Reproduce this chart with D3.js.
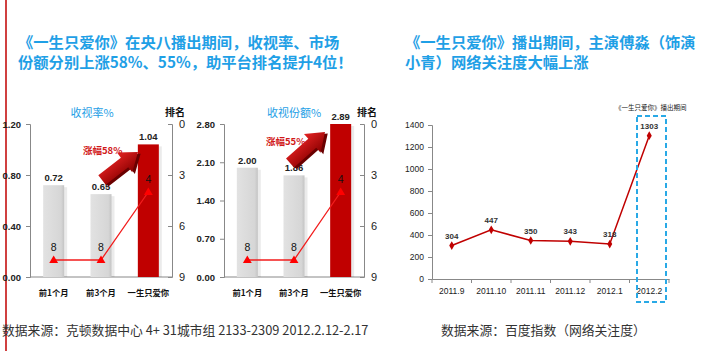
<!DOCTYPE html>
<html>
<head>
<meta charset="utf-8">
<script src="https://cdn.jsdelivr.net/npm/d3@7"></script>
<style>
  body { margin: 0; background: #fff; }
  svg { display: block; }
  .cjk { font-family: "Noto Sans CJK SC", sans-serif; }
  .num { font-family: "Liberation Sans", Arial, sans-serif; }
</style>
</head>
<body>
<svg id="chart" width="702" height="351"></svg>
<script>
// ---- data ----
var categories = ["前1个月", "前3个月", "一生只爱你"]
var ratingValues = [0.72, 0.65, 1.04]
var shareValues = [2.00, 1.86, 2.89]
var ratingRanks = [8, 8, 4]
var shareRanks = [8, 8, 4]
var ratingTicks = [0, 0.4, 0.8, 1.2]
var shareTicks = [0, 0.7, 1.4, 2.1, 2.8]
var rankTicks = [0, 3, 6, 9]
var months = ["2011.9", "2011.10", "2011.11", "2011.12", "2012.1", "2012.2"]
var attention = [304, 447, 350, 343, 318, 1303]
var attentionTicks = [0, 200, 400, 600, 800, 1000, 1200, 1400]

var blue = "#1fa0e6"
var darkRed = "#c00000"

var svg = d3.select("#chart")
var defs = svg.append("defs")

var arrowGrad = defs.append("linearGradient").attr("id", "arrowGrad")
    .attr("x1", "0").attr("y1", "1").attr("x2", "0").attr("y2", "0")
arrowGrad.append("stop").attr("offset", "0%").attr("stop-color", "#8a0000")
arrowGrad.append("stop").attr("offset", "100%").attr("stop-color", "#e52222")

var barGrad = defs.append("linearGradient").attr("id", "grayBar")
barGrad.append("stop").attr("offset", "0%").attr("stop-color", "#e2e2e2")
barGrad.append("stop").attr("offset", "85%").attr("stop-color", "#d6d6d6")
barGrad.append("stop").attr("offset", "100%").attr("stop-color", "#c4c4c4")

// red line down the left edge
svg.append("line").attr("x1", 6).attr("x2", 6).attr("y1", 0).attr("y2", 351)
    .attr("stroke", darkRed).attr("stroke-width", 1.5)

// titles
function title(x, lines) {
    lines.forEach(function(t, i) {
        svg.append("text").attr("class", "cjk")
            .attr("x", x).attr("y", 48 + i * 20)
            .attr("font-size", 15.3).attr("font-weight", "bold")
            .attr("fill", blue).text(t)
    })
}
title(18, ["《一生只爱你》在央八播出期间，收视率、市场", "份额分别上涨58%、55%，助平台排名提升4位！"])
title(405, ["《一生只爱你》播出期间，主演傅淼（饰演", "小青）网络关注度大幅上涨"])

// sources
svg.append("text").attr("class", "cjk").attr("x", 2).attr("y", 335)
    .attr("font-size", 12.8).attr("fill", "#333")
    .text("数据来源：克顿数据中心 4+ 31城市组 2133-2309 2012.2.12-2.17")
svg.append("text").attr("class", "cjk").attr("x", 441).attr("y", 335)
    .attr("font-size", 12.8).attr("fill", "#333")
    .text("数据来源：百度指数（网络关注度）")

function styleAxis(g) {
    g.selectAll("path.domain").attr("stroke", "#888")
    g.selectAll(".tick line").attr("stroke", "#888")
    g.selectAll(".tick text").attr("fill", "#222")
        .style("font-family", "Liberation Sans, Arial, sans-serif")
}

function drawArrow(g, tail, tip) {
    var dx = tip[0] - tail[0], dy = tip[1] - tail[1]
    var L = Math.sqrt(dx * dx + dy * dy)
    var ang = Math.atan2(dy, dx) * 180 / Math.PI
    var w = 6, H = 12.5, h = 17
    var pts = [[0, -w], [L - h, -w], [L - h, -H], [L, 0], [L - h, H], [L - h, w], [0, w]]
    var a = g.append("g").attr("transform", "translate(" + tail[0] + "," + tail[1] + ") rotate(" + ang + ")")
    a.append("polygon").attr("points", pts.map(function(p) { return [p[0] + 1, p[1] + 3].join(",") }).join(" "))
        .attr("fill", "#6a0000")
    a.append("polygon").attr("points", pts.map(function(p) { return p.join(",") }).join(" "))
        .attr("fill", "url(#arrowGrad)")
}

function barChart(cfg) {
    var top = 124, bottom = 277
    var x = d3.scalePoint().domain(categories).range([cfg.left, cfg.right]).padding(0.5)
    var y = d3.scaleLinear().domain([0, cfg.max]).range([bottom, top]).clamp(true)
    var r = d3.scaleLinear().domain([0, 9]).range([top, bottom])
    var bw = 21
    var g = svg.append("g")

    var yAxis = g.append("g").attr("transform", "translate(" + cfg.left + ",0)")
        .call(d3.axisLeft(y).tickValues(cfg.ticks).tickFormat(d3.format(".2f")).tickSize(4).tickPadding(5))
    yAxis.selectAll("text").attr("font-size", 9.5).attr("font-weight", "bold")
    styleAxis(yAxis)

    var rAxis = g.append("g").attr("transform", "translate(" + cfg.right + ",0)")
        .call(d3.axisRight(r).tickValues(rankTicks).tickSize(-4).tickPadding(7))
    rAxis.selectAll("text").attr("font-size", 11)
    styleAxis(rAxis)

    g.append("line").attr("x1", cfg.left).attr("x2", cfg.right).attr("y1", bottom).attr("y2", bottom)
        .attr("stroke", "#888")

    // bars
    g.selectAll(".shadow").data(cfg.values).enter().append("rect")
        .attr("x", function(d, i) { return x(categories[i]) - bw / 2 + 3 })
        .attr("y", function(d) { return y(d) + 2 })
        .attr("width", bw).attr("height", function(d) { return bottom - y(d) - 2 })
        .attr("fill", "#000").attr("opacity", 0.08)
    g.selectAll(".bar").data(cfg.values).enter().append("rect")
        .attr("x", function(d, i) { return x(categories[i]) - bw / 2 })
        .attr("y", function(d) { return y(d) })
        .attr("width", bw).attr("height", function(d) { return bottom - y(d) })
        .attr("fill", function(d, i) { return i === 2 ? darkRed : "url(#grayBar)" })

    g.selectAll(".val").data(cfg.values).enter().append("text").attr("class", "num")
        .attr("x", function(d, i) { return x(categories[i]) })
        .attr("y", function(d) { return y(d) - 4 })
        .attr("text-anchor", "middle").attr("font-size", 9.5).attr("font-weight", "bold")
        .attr("fill", "#222").text(function(d) { return d.toFixed(2) })

    // rank line
    var line = d3.line().x(function(d, i) { return x(categories[i]) }).y(function(d) { return r(d) })
    g.append("path").datum(cfg.ranks).attr("d", line)
        .attr("fill", "none").attr("stroke", "#f21d1d").attr("stroke-width", 1.3)
    g.selectAll(".tri").data(cfg.ranks).enter().append("path")
        .attr("d", d3.symbol().type(d3.symbolTriangle).size(34))
        .attr("transform", function(d, i) { return "translate(" + x(categories[i]) + "," + (r(d) + 0.5) + ")" })
        .attr("fill", "#ff0000")
    g.selectAll(".rk").data(cfg.ranks).enter().append("text").attr("class", "num")
        .attr("x", function(d, i) { return x(categories[i]) })
        .attr("y", function(d) { return r(d) - 9 })
        .attr("text-anchor", "middle").attr("font-size", 10.5)
        .attr("fill", "#111").text(function(d) { return d })

    // category labels
    g.selectAll(".cat").data(categories).enter().append("text").attr("class", "cjk")
        .attr("x", function(d) { return x(d) }).attr("y", 296)
        .attr("text-anchor", "middle").attr("font-size", 8.3).attr("font-weight", "bold")
        .attr("fill", "#111").text(function(d) { return d })

    g.append("text").attr("class", "cjk").attr("x", cfg.titleX).attr("y", 117)
        .attr("text-anchor", "middle").attr("font-size", 11).attr("fill", blue).text(cfg.title)
    g.append("text").attr("class", "cjk").attr("x", cfg.right + 3).attr("y", 116)
        .attr("text-anchor", "middle").attr("font-size", 10).attr("font-weight", "bold")
        .attr("fill", "#111").text("排名")

    drawArrow(g, cfg.tail, cfg.tip)
    g.append("text").attr("class", "cjk").attr("x", cfg.growthX).attr("y", cfg.growthY)
        .attr("font-size", 9.5).attr("font-weight", "bold").attr("fill", "#d11a1a").text(cfg.growth)
}

barChart({ left: 30, right: 172, max: 1.2, ticks: ratingTicks, values: ratingValues, ranks: ratingRanks,
    title: "收视率%", titleX: 92, growth: "涨幅58%", growthX: 83, growthY: 154,
    tail: [102, 180], tip: [138, 152] })
barChart({ left: 224, right: 364, max: 2.8, ticks: shareTicks, values: shareValues, ranks: shareRanks,
    title: "收视份额%", titleX: 294, growth: "涨幅55%", growthX: 266, growthY: 145,
    tail: [290, 163], tip: [325, 132] })

// ---- attention line chart ----
var lx = d3.scaleBand().domain(months).range([432, 669])
var ly = d3.scaleLinear().domain([0, 1400]).range([279, 125])
var lg = svg.append("g")

var lyAxis = lg.append("g").attr("transform", "translate(432,0)")
    .call(d3.axisLeft(ly).tickValues(attentionTicks).tickFormat(d3.format("d")).tickSize(4).tickPadding(4))
lyAxis.selectAll("text").attr("font-size", 8.5)
styleAxis(lyAxis)

var lxAxis = lg.append("g").attr("transform", "translate(0,279)")
    .call(d3.axisBottom(lx).tickSize(0).tickPadding(9))
lxAxis.selectAll("text").attr("font-size", 8.5)
styleAxis(lxAxis)
lg.selectAll(".btick").data(months.concat([null])).enter().append("line")
    .attr("x1", function(d, i) { return 432 + i * lx.step() })
    .attr("x2", function(d, i) { return 432 + i * lx.step() })
    .attr("y1", 279).attr("y2", 283).attr("stroke", "#888")

var cx = function(d, i) { return lx(months[i]) + lx.bandwidth() / 2 }
lg.append("path").datum(attention)
    .attr("d", d3.line().x(cx).y(function(d) { return ly(d) }))
    .attr("fill", "none").attr("stroke", darkRed).attr("stroke-width", 1.5)
lg.selectAll(".pt").data(attention).enter().append("path")
    .attr("d", d3.symbol().type(d3.symbolDiamond).size(22))
    .attr("transform", function(d, i) { return "translate(" + cx(d, i) + "," + ly(d) + ")" })
    .attr("fill", darkRed)
lg.selectAll(".pl").data(attention).enter().append("text").attr("class", "num")
    .attr("x", cx).attr("y", function(d) { return ly(d) - 7 })
    .attr("text-anchor", "middle").attr("font-size", 8).attr("font-weight", "bold").attr("fill", "#333")
    .text(function(d) { return d })

var last = months[months.length - 1]
lg.append("rect").attr("x", lx(last) + 7.5).attr("y", 116)
    .attr("width", 29).attr("height", 186)
    .attr("fill", "none").attr("stroke", "#29a9e6").attr("stroke-width", 2)
    .attr("stroke-dasharray", "5,3")
lg.append("text").attr("class", "cjk").attr("x", 615).attr("y", 110)
    .attr("font-size", 6.5).attr("fill", "#222").text("《一生只爱你》播出期间")
</script>
</body>
</html>
